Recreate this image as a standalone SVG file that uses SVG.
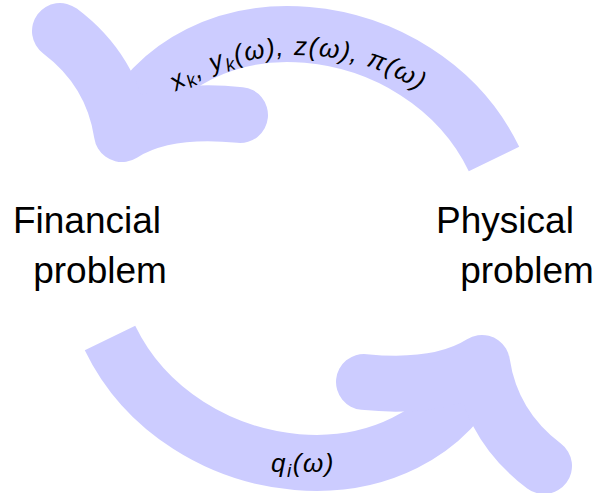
<svg xmlns="http://www.w3.org/2000/svg" width="603" height="493" viewBox="0 0 603 493">
<style>
.band{fill:none;stroke:#ccccff;stroke-width:56;stroke-linecap:butt}
.head{fill:none;stroke:#ccccff;stroke-width:56;stroke-linecap:round;stroke-linejoin:round}
.lbl{font-family:"Liberation Sans",Arial,sans-serif;font-size:37px;fill:#000;text-anchor:middle}
.math{font-family:"Liberation Sans",Arial,sans-serif;font-size:26px;font-style:italic;fill:#000}
</style>
<defs>
<path id="lblPath" d="M127.2,134.7 A223,223 0 0 1 468.8,134.7"/>
</defs>
<g id="connectors">
<g id="arrow-top">
<path class="band" d="M494,159 C422.6,10.9 191.1,-15.3 122,134"/>
<path class="head" d="M60,31 Q112.5,70.4 122,134 Q164,107.5 240,115"/>
</g>
<g id="arrow-bottom" transform="rotate(180 302 248.5)">
<path class="band" d="M494,159 C422.6,10.9 191.1,-15.3 122,134"/>
<path class="head" d="M60,31 Q112.5,70.4 122,134 Q164,107.5 240,115"/>
</g>
<text class="math" letter-spacing="1.3"><textPath href="#lblPath" startOffset="50%" text-anchor="middle">x<tspan font-size="18" dy="5">k</tspan><tspan dy="-5">, y</tspan><tspan font-size="18" dy="5">k</tspan><tspan dy="-5">(ω), z(ω), π(ω)</tspan></textPath></text>
<text class="math" x="303" y="472" text-anchor="middle" font-size="28" letter-spacing="1.5">q<tspan font-size="19" dy="5">i</tspan><tspan dy="-5">(ω)</tspan></text>
</g>
<g id="financial">
<text class="lbl" x="87" y="233">Financial</text>
<text class="lbl" x="100" y="283">problem</text>
</g>
<g id="physical">
<text class="lbl" x="505" y="233">Physical</text>
<text class="lbl" x="527" y="283">problem</text>
</g>
</svg>
